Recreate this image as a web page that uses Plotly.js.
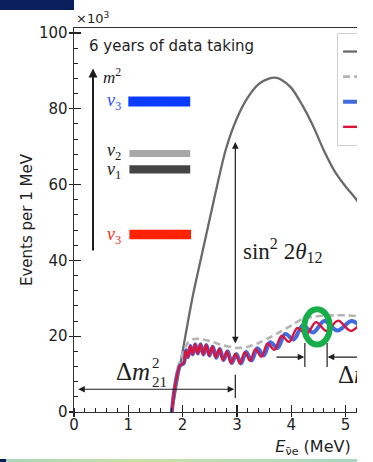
<!DOCTYPE html>
<html>
<head>
<meta charset="utf-8">
<script src="https://cdn.plot.ly/plotly-3.0.1.min.js"></script>
<style>
  html, body { margin: 0; padding: 0; background: #fff; overflow: hidden; }
  #frame { position: absolute; left: 0; top: 0; width: 357px; height: 462px; overflow: hidden; }
  #chart { width: 600px; height: 462px; }
  #topbar { position: absolute; left: 0; top: 0; width: 74px; height: 10px; background: #0b1f5e; z-index: 5; }
  #botbar { position: absolute; left: 0; top: 459px; width: 357px; height: 3px; z-index: 5;
            background: linear-gradient(90deg, #0b1f5e 0px, #0b1f5e 6px, #a9d6b8 6px, #c9e0a8 40%, #b7dcb8 70%, #a9d6c0 100%); }
</style>
</head>
<body>
<div id="frame"><div id="chart"></div></div>
<div id="topbar"></div>
<div id="botbar"></div>
<script>
// ---- data (energy in MeV, events per 1 MeV in units of 10^3) ----
const seriesNames = ["No oscillation", "Δm²₂₁ oscillation only", "Normal ordering", "Inverted ordering"];

const energyNoOsc = [1.80, 1.90, 2.00, 2.10, 2.20, 2.40, 2.60, 2.80, 3.00, 3.20, 3.40, 3.60, 3.70, 3.80, 4.00, 4.20, 4.40, 4.60, 4.80, 5.00, 5.20, 5.50, 6.00, 6.50, 7.00, 7.50, 8.00, 8.50];
const eventsNoOsc = [0.0, 8.0, 16.0, 24.0, 31.5, 44.5, 57.5, 69.5, 77.5, 83.0, 86.5, 88.0, 88.2, 87.8, 85.5, 81.0, 75.5, 69.0, 63.5, 59.5, 56.0, 49.0, 37.0, 26.0, 17.0, 10.0, 5.0, 2.0];

const energySolar = [1.80, 1.85, 1.90, 2.00, 2.10, 2.20, 2.30, 2.50, 2.70, 2.90, 3.00, 3.20, 3.40, 3.60, 3.80, 4.00, 4.20, 4.40, 4.60, 4.80, 5.00, 5.20, 5.50, 6.00, 6.50, 7.00, 7.50, 8.00, 8.50];
const eventsSolar = [0.0, 7.0, 11.0, 15.5, 18.3, 19.2, 19.3, 18.7, 17.8, 17.1, 16.9, 17.2, 18.2, 19.6, 21.2, 22.8, 24.5, 25.1, 25.4, 25.5, 25.5, 25.3, 24.6, 21.5, 16.5, 11.5, 7.0, 3.8, 1.6];

const energyNO = [1.80, 1.85, 1.90, 1.95, 2.018, 2.057, 2.097, 2.139, 2.183, 2.228, 2.276, 2.325, 2.377, 2.431, 2.487, 2.546, 2.609, 2.674, 2.742, 2.814, 2.891, 2.971, 3.056, 3.146, 3.241, 3.342, 3.450, 3.565, 3.688, 3.820, 3.961, 4.113, 4.278, 4.456, 4.650, 4.861, 5.093, 5.348, 5.60, 6.00, 6.50, 7.00, 7.50, 8.00, 8.50];
const eventsNO = [0.0, 6.0, 9.8, 12.2, 12.9, 16.2, 14.4, 17.4, 15.2, 17.9, 15.4, 17.9, 15.2, 17.7, 14.9, 17.3, 14.4, 16.6, 13.7, 16.0, 12.9, 15.3, 12.8, 15.8, 13.5, 16.6, 14.6, 18.1, 16.4, 20.1, 18.5, 22.2, 20.5, 23.7, 21.4, 24.1, 21.4, 23.7, 21.4, 19.0, 14.8, 10.4, 6.4, 3.4, 1.4];

const energyIO = [1.80, 1.85, 1.90, 1.95, 2.022, 2.061, 2.101, 2.143, 2.187, 2.233, 2.280, 2.331, 2.383, 2.438, 2.495, 2.556, 2.619, 2.685, 2.755, 2.829, 2.906, 2.989, 3.075, 3.169, 3.269, 3.376, 3.491, 3.613, 3.746, 3.889, 4.043, 4.211, 4.401, 4.610, 4.850, 5.117, 5.415, 5.70, 6.00, 6.50, 7.00, 7.50, 8.00, 8.50];
const eventsIO = [0.0, 6.0, 9.8, 12.2, 12.9, 16.3, 14.5, 17.4, 15.2, 17.9, 15.4, 17.9, 15.2, 17.7, 14.9, 17.2, 14.3, 16.6, 13.7, 16.0, 12.9, 15.3, 12.8, 15.8, 13.6, 16.8, 14.9, 18.4, 16.9, 20.6, 19.1, 22.8, 21.0, 24.0, 21.5, 24.0, 21.0, 21.0, 19.0, 14.8, 10.4, 6.4, 3.4, 1.4];

const xTickVals = [0, 1, 2, 3, 4, 5, 6, 7, 8];
const xTickText = ["0", "1", "2", "3", "4", "5", "6", "7", "8"];
const yTickVals = [0, 20, 40, 60, 80, 100];
const yTickText = ["0", "20", "40", "60", "80", "100"];

// ---- styling ----
const INK = "#1e1e1e";
const SERIF = "Liberation Serif, DejaVu Serif, serif";
const SANS = "DejaVu Sans, sans-serif";
const XR = [0, 8.8], YR = [0, 101.3];

const traces = [
  {x: energyNoOsc, y: eventsNoOsc, name: seriesNames[0], mode: "lines",
   line: {color: "#6a6a6a", width: 2.3, shape: "spline", smoothing: 0.8}},
  {x: energySolar, y: eventsSolar, name: seriesNames[1], mode: "lines",
   line: {color: "#b4b4b4", width: 2.6, dash: "7px,4px", shape: "spline", smoothing: 0.8}},
  {x: energyIO, y: eventsIO, name: seriesNames[2], mode: "lines",
   line: {color: "#4169e1", width: 4, shape: "spline", smoothing: 1}},
  {x: energyNO, y: eventsNO, name: seriesNames[3], mode: "lines",
   line: {color: "#dc143c", width: 2.4, shape: "spline", smoothing: 1}},
  {x: [], y: [], xaxis: "x2", yaxis: "y2", showlegend: false, hoverinfo: "skip", mode: "lines"}
];

function ann(x, y, text, opts) {
  return Object.assign({x: x, y: y, xref: "x", yref: "y", text: text, showarrow: false,
    font: {family: SERIF, size: 19, color: INK}, xanchor: "left", yanchor: "middle"}, opts || {});
}
function arrow(x, y, ax, ay, opts) {
  return Object.assign({x: x, y: y, ax: ax, ay: ay, xref: "x", yref: "y", axref: "x", ayref: "y",
    text: "", showarrow: true, arrowhead: 2, arrowsize: 1.1, arrowwidth: 1.2, arrowcolor: INK,
    standoff: 0, startstandoff: 0}, opts || {});
}
function vline(x, y0, y1, w) {
  return {type: "line", xref: "x", yref: "y", x0: x, x1: x, y0: y0, y1: y1, line: {color: INK, width: w || 1.2}};
}
function bar(x0, x1, y0, y1, c) {
  return {type: "rect", xref: "x", yref: "y", x0: x0, x1: x1, y0: y0, y1: y1, fillcolor: c, line: {width: 0}};
}

const shapes = [
  bar(1.00, 2.14, 80.6, 83.2, "#0a3cff"),
  bar(1.02, 2.14, 67.3, 69.1, "#a8a8a8"),
  bar(1.02, 2.14, 62.9, 65.1, "#444444"),
  bar(1.02, 2.155, 45.6, 48.1, "#ff2200"),
  vline(2.97, 3.7, 9.8),
  vline(4.25, 11.9, 18.2),
  vline(4.66, 11.9, 18.2),
  {type: "circle", xref: "x", yref: "y", x0: 4.24, x1: 4.71, y0: 17.8, y1: 27.1,
   line: {color: "#16ad4a", width: 6}}
];

const annotations = [
  {xref: "paper", yref: "paper", x: 0.0, y: 1.0, yshift: 10, text: "×10<sup>3</sup>", showarrow: false,
   xanchor: "left", yanchor: "middle", font: {family: SANS, size: 13, color: INK}},
  ann(0.24, 96.6, "6 years of data taking", {font: {family: SANS, size: 15, color: INK}}),
  arrow(0.35, 90.6, 0.35, 42.2, {arrowwidth: 2, arrowsize: 0.9}),
  ann(0.90, 88.6, "<i>m</i><sup>2</sup>", {xanchor: "right", font: {family: SERIF, size: 17, color: INK}}),
  ann(0.90, 81.8, "<i>ν</i><sub>3</sub>", {xanchor: "right", font: {family: SERIF, size: 18, color: "#2f4dff"}}),
  ann(0.90, 68.8, "<i>ν</i><sub>2</sub>", {xanchor: "right", font: {family: SERIF, size: 18, color: INK}}),
  ann(0.90, 63.6, "<i>ν</i><sub>1</sub>", {xanchor: "right", font: {family: SERIF, size: 18, color: INK}}),
  ann(0.90, 46.6, "<i>ν</i><sub>3</sub>", {xanchor: "right", font: {family: SERIF, size: 18, color: "#ff2a10"}}),
  arrow(2.97, 71.2, 2.97, 17.7, {arrowside: "end+start", startarrowhead: 2, startarrowsize: 1.1}),
  ann(3.07, 42.7, "sin<sup>2</sup> 2<i>θ</i><sub>12</sub>", {font: {family: SERIF, size: 23, color: INK}}),
  arrow(2.95, 6.0, 0.05, 6.0, {arrowside: "end+start", startarrowhead: 2, startarrowsize: 1.1}),
  ann(1.445, 10.6, "Δ<i>m</i>", {xanchor: "right", font: {family: SERIF, size: 25, color: INK}}),
  ann(1.40, 12.8, "2", {font: {family: SERIF, size: 15, color: INK}}),
  ann(1.40, 7.9, "21", {font: {family: SERIF, size: 15, color: INK}}),
  arrow(4.24, 14.5, 3.70, 14.5),
  arrow(4.67, 14.5, 5.40, 14.5),
  ann(4.82, 9.9, "Δ<i>m</i>", {font: {family: SERIF, size: 25, color: INK}}),
  ann(5.55, 12.2, "2", {font: {family: SERIF, size: 15, color: INK}}),
  ann(5.55, 7.4, "31", {font: {family: SERIF, size: 15, color: INK}})
];

const axisCommon = {showgrid: false, zeroline: false, showline: true, linecolor: "#333", linewidth: 1.4,
  mirror: true, tickcolor: "#222", tickwidth: 1.2, tickfont: {family: SANS, size: 15, color: INK}};

const layout = {
  width: 600, height: 462,
  margin: {l: 74, r: 48, t: 28, b: 50, pad: 0},
  paper_bgcolor: "#fff", plot_bgcolor: "#fff",
  showlegend: true,
  legend: {x: 0.5504, y: 0.987, xanchor: "left", yanchor: "top", bgcolor: "#fff",
    bordercolor: "#cfcfcf", borderwidth: 1, font: {family: SANS, size: 17, color: INK}},
  xaxis: Object.assign({}, axisCommon, {range: XR, tickmode: "array", tickvals: xTickVals, ticktext: xTickText,
    ticks: "outside", ticklen: 4, ticklabelstandoff: -5,
    minor: {tickmode: "linear", tick0: 0, dtick: 0.2, ticks: "inside", ticklen: 4, tickcolor: "#222", tickwidth: 1},
    title: {text: "<i>E</i><sub>ν̄e</sub> (MeV)", font: {family: SANS, size: 16, color: INK}, standoff: 7}}),
  yaxis: Object.assign({}, axisCommon, {range: YR, tickmode: "array", tickvals: yTickVals, ticktext: yTickText,
    ticks: "outside", ticklen: 4, ticklabelstandoff: -2,
    minor: {tickmode: "linear", tick0: 0, dtick: 4, ticks: "inside", ticklen: 4, tickcolor: "#222", tickwidth: 1},
    title: {text: "Events per 1 MeV", font: {family: SANS, size: 15, color: INK}, standoff: 2}}),
  xaxis2: {overlaying: "x", anchor: "y2", range: XR, tickmode: "array", tickvals: xTickVals, ticks: "inside",
    ticklen: 7, tickwidth: 1.2, tickcolor: "#222", showticklabels: false, showline: false, showgrid: false, zeroline: false},
  yaxis2: {overlaying: "y", anchor: "x2", range: YR, tickmode: "array", tickvals: yTickVals, ticks: "inside",
    ticklen: 7, tickwidth: 1.2, tickcolor: "#222", showticklabels: false, showline: false, showgrid: false, zeroline: false},
  shapes: shapes,
  annotations: annotations
};

Plotly.newPlot("chart", traces, layout, {staticPlot: true, displayModeBar: false});
</script>
</body>
</html>
